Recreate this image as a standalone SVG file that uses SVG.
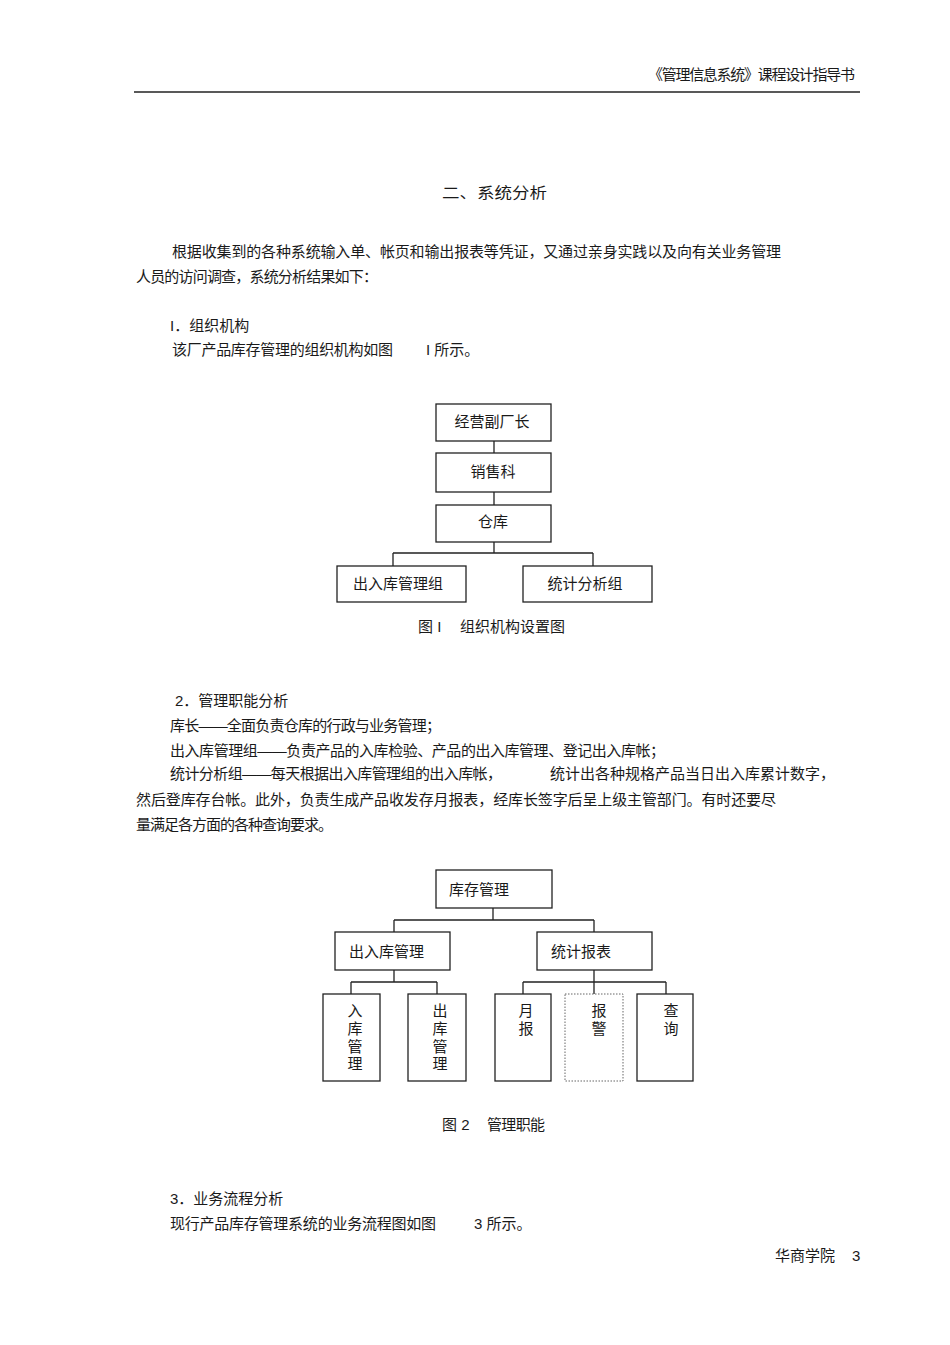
<svg xmlns="http://www.w3.org/2000/svg" width="950" height="1345" viewBox="0 0 950 1345">
<style>
text{font-family:"Liberation Sans","Noto Sans CJK SC",sans-serif;fill:#1a1a1a;font-size:15px}
.c{text-anchor:middle}
.box{fill:#fff;stroke:#222;stroke-width:1.3}
.dot{fill:#fff;stroke:#666;stroke-width:1;stroke-dasharray:1.5 1.5}
.ln{fill:none;stroke:#222;stroke-width:1.3}
</style>
<rect width="950" height="1345" fill="#fff"/>
<text x="855" y="80" font-size="13.5" text-anchor="end" textLength="207">《管理信息系统》课程设计指导书</text>
<line x1="134" y1="92" x2="860" y2="92" stroke="#222" stroke-width="1.3"/>
<text x="442" y="198" font-size="17.5" textLength="105" lengthAdjust="spacingAndGlyphs">二、系统分析</text>
<text x="172" y="257" textLength="609">根据收集到的各种系统输入单、帐页和输出报表等凭证，又通过亲身实践以及向有关业务管理</text>
<text x="136" y="282" textLength="242">人员的访问调查，系统分析结果如下：</text>
<text x="170" y="331">I．组织机构</text>
<text x="172" y="355" textLength="221">该厂产品库存管理的组织机构如图</text>
<text x="426" y="355">I 所示。</text>

<g id="connectors1">
<path class="ln" d="M494 441V453M494 492V505M494 542V553M393 553H593M393 553V566M593 553V566"/>
</g>
<g id="n-jyfcz"><rect class="box" x="436" y="404" width="115" height="37"/><text class="c" x="492" y="427">经营副厂长</text></g>
<g id="n-xsk"><rect class="box" x="436" y="453" width="115" height="39"/><text class="c" x="493" y="477">销售科</text></g>
<g id="n-ck"><rect class="box" x="436" y="505" width="115" height="37"/><text class="c" x="493" y="527">仓库</text></g>
<g id="n-crkglz"><rect class="box" x="337" y="566" width="129" height="36"/><text class="c" x="398" y="589">出入库管理组</text></g>
<g id="n-tjfxz"><rect class="box" x="523" y="566" width="129" height="36"/><text class="c" x="585" y="589">统计分析组</text></g>
<text x="418" y="632">图 I</text>
<text x="460" y="632" textLength="105">组织机构设置图</text>

<text x="175" y="706">2．管理职能分析</text>
<text x="170" y="731" textLength="271">库长——全面负责仓库的行政与业务管理；</text>
<text x="170" y="756" textLength="495">出入库管理组——负责产品的入库检验、产品的出入库管理、登记出入库帐；</text>
<text x="170" y="779" textLength="332">统计分析组——每天根据出入库管理组的出入库帐，</text>
<text x="550" y="779" textLength="285">统计出各种规格产品当日出入库累计数字，</text>
<text x="136" y="805" textLength="640">然后登库存台帐。此外，负责生成产品收发存月报表，经库长签字后呈上级主管部门。有时还要尽</text>
<text x="136" y="830" textLength="197">量满足各方面的各种查询要求。</text>

<g id="connectors2">
<path class="ln" d="M493 908V920M394 920H594M394 920V932M594 920V932M394 970V982M351 982H437M351 982V994M437 982V994M594 970V994M523 982H666M523 982V994M666 982V994"/>
</g>
<g id="n-kcgl"><rect class="box" x="436" y="870" width="116" height="38"/><text x="449" y="895">库存管理</text></g>
<g id="n-crkgl"><rect class="box" x="335" y="932" width="115" height="38"/><text x="349" y="957">出入库管理</text></g>
<g id="n-tjbb"><rect class="box" x="537" y="932" width="115" height="38"/><text x="551" y="957">统计报表</text></g>
<g id="n-rkgl"><rect class="box" x="323" y="994" width="57" height="87"/>
<text class="c" x="355" y="1016">入</text><text class="c" x="355" y="1034">库</text><text class="c" x="355" y="1052">管</text><text class="c" x="355" y="1069">理</text></g>
<g id="n-ckgl"><rect class="box" x="408" y="994" width="58" height="87"/>
<text class="c" x="440" y="1016">出</text><text class="c" x="440" y="1034">库</text><text class="c" x="440" y="1052">管</text><text class="c" x="440" y="1069">理</text></g>
<g id="n-yb"><rect class="box" x="495" y="994" width="56" height="87"/>
<text class="c" x="526" y="1016">月</text><text class="c" x="526" y="1034">报</text></g>
<g id="n-bj"><rect class="dot" x="565" y="994" width="58" height="87"/>
<text class="c" x="599" y="1016">报</text><text class="c" x="599" y="1034">警</text></g>
<g id="n-cx"><rect class="box" x="637" y="994" width="56" height="87"/>
<text class="c" x="671" y="1016">查</text><text class="c" x="671" y="1034">询</text></g>
<text x="442" y="1130">图 2</text>
<text x="487" y="1130" textLength="58">管理职能</text>

<text x="170" y="1204">3．业务流程分析</text>
<text x="170" y="1229" textLength="266">现行产品库存管理系统的业务流程图如图</text>
<text x="474" y="1229">3 所示。</text>
<text x="775" y="1261" font-size="13.5">华商学院</text>
<text x="852" y="1261" font-size="13.5">3</text>
</svg>
